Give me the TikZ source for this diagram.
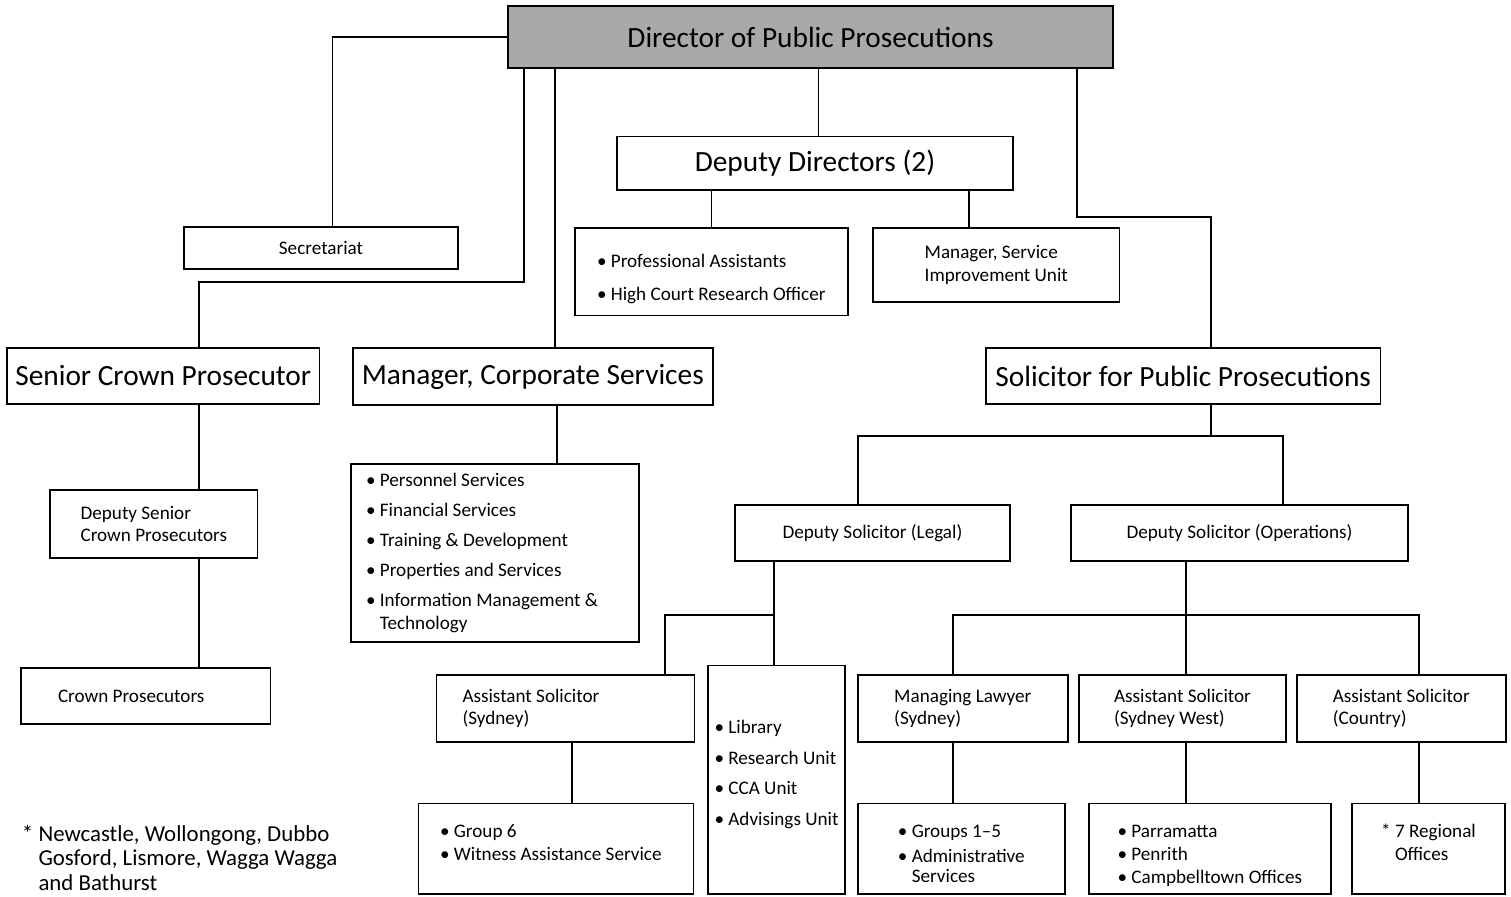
\documentclass[tikz,border=0pt]{standalone}
\usepackage{fontspec}
\setmainfont{Carlito}
\definecolor{dppgray}{HTML}{A9A9A9}
\tikzset{box/.style={draw,line width=1.1pt,inner sep=0pt,align=center,font=\fontsize{10.9}{13}\selectfont},
         bigbox/.style={box,font=\fontsize{16.7}{20}\selectfont},
         link/.style={line width=0.8pt}}

\begin{document}
\begin{tikzpicture}[x=0.02cm,y=-0.02cm]
                  \useasboundingbox (0,0) rectangle (1511,896);
                  % top rows
                  \node[bigbox,fill=dppgray,minimum width=12.1cm,minimum height=1.24cm] (dpp) at (810.5,37) {Director of Public Prosecutions};
                  \node[bigbox,minimum width=7.92cm,minimum height=1.07cm] (dd) at (815,163.25) {Deputy Directors (2)};
                  \node[box,minimum width=5.48cm,minimum height=0.84cm] (sec) at (321,248) {Secretariat};
                  \node[box,align=left,minimum width=5.47cm,minimum height=1.75cm] (pa) at (711.25,271.75) {\rule{0pt}{15.6pt}\textbullet~Professional Assistants\\[5.7pt]\textbullet~High Court Research Officer};
                  \node[box,align=left,minimum width=4.93cm,minimum height=1.48cm] (msi) at (996.25,265) {Manager, Service\\Improvement Unit};
                  \node[bigbox,minimum width=6.25cm,minimum height=1.12cm] (scp) at (163.25,376) {Senior Crown Prosecutor};
                  \node[bigbox,minimum width=7.21cm,minimum height=1.14cm] (mcs) at (532.75,376.5) {Manager, Corporate Services};
                  \node[bigbox,minimum width=7.89cm,minimum height=1.12cm] (spp) at (1183.25,376) {Solicitor for Public Prosecutions};
                  % left branches
                  \node[box,align=left,minimum width=4.15cm,minimum height=1.36cm] (dscp) at (153.8,524) {Deputy Senior\\Crown Prosecutors};
                  \node[box,align=flush left,inner xsep=0.74cm,text width=3.51cm,minimum width=4.99cm,minimum height=1.12cm] (cp) at (145.75,696) {Crown Prosecutors};
                  \node[box,align=flush left,inner xsep=0.3cm,text width=5.16cm,minimum width=5.76cm,minimum height=3.55cm] (csl) at (495,552.85) {\textbullet~Personnel Services\\[4pt]\textbullet~Financial Services\\[4pt]\textbullet~Training \& Development\\[4pt]\textbullet~Properties and Services\\[4pt]\textbullet~Information Management \&\\\phantom{\textbullet~}Technology};
                  \node[bigbox,font=\fontsize{13}{14}\selectfont,draw=none,align=left,anchor=north west] (note) at (21,824) {*~Newcastle, Wollongong, Dubbo\\\phantom{*~}Gosford, Lismore, Wagga Wagga\\\phantom{*~}and Bathurst};
                  % solicitor branches
                  \node[box,minimum width=5.5cm,minimum height=1.12cm] (dsl) at (872.5,533) {Deputy Solicitor (Legal)};
                  \node[box,minimum width=6.74cm,minimum height=1.12cm] (dso) at (1239.5,533) {Deputy Solicitor (Operations)};
                  \node[box,align=flush left,inner xsep=0.52cm,text width=4.12cm,minimum width=5.16cm,minimum height=1.35cm] (asy) at (565.5,708.4) {Assistant Solicitor\\(Sydney)};
                  \node[box,align=left,minimum width=2.74cm,minimum height=4.57cm] (lib) at (776.5,779.75) {\textbullet~Library\\[4.6pt]\textbullet~Research Unit\\[4.6pt]\textbullet~CCA Unit\\[4.6pt]\textbullet~Advisings Unit\rule[-7.9pt]{0pt}{7.9pt}};
                  \node[box,align=left,minimum width=4.21cm,minimum height=1.35cm] (mls) at (962.8,708.4) {Managing Lawyer\\(Sydney)};
                  \node[box,align=left,minimum width=4.14cm,minimum height=1.35cm] (asw) at (1182.5,708.4) {Assistant Solicitor\\(Sydney West)};
                  \node[box,align=left,minimum width=4.17cm,minimum height=1.35cm] (asc) at (1401.3,708.4) {Assistant Solicitor\\(Country)};
                  \node[box,align=flush left,inner xsep=0.43cm,text width=4.64cm,minimum width=5.5cm,minimum height=1.81cm] (g6) at (556,848.75) {\textbullet~Group 6\\\textbullet~Witness Assistance Service\rule[-6.8pt]{0pt}{6.8pt}};
                  \node[box,align=left,minimum width=4.15cm,minimum height=1.81cm] (g15) at (961.3,848.75) {\rule{0pt}{12.7pt}\textbullet~Groups 1--5\\[1.5pt]\textbullet~Administrative\\[-1.6pt]\phantom{\textbullet~}Services};
                  \node[box,align=left,minimum width=4.83cm,minimum height=1.81cm] (par) at (1209.8,848.75) {\rule{0pt}{14.9pt}\textbullet~Parramatta\\\textbullet~Penrith\\\textbullet~Campbelltown Offices};
                  \node[box,align=left,minimum width=3.06cm,minimum height=1.81cm] (reg) at (1428.5,848.75) {*~7 Regional\\\phantom{*~}Offices\rule[-7.9pt]{0pt}{7.9pt}};
                  % connectors
                  \draw[link] (dpp.west) -| ([xshift=0.23cm]sec.north);
                  \draw[link] (524,0 |- dpp.south) -- (524,282) -| (199,0 |- scp.north);
                  \draw[link] (555,0 |- dpp.south) -- (555,0 |- mcs.north);
                  \draw[link] (818.5,0 |- dpp.south) -- (818.5,0 |- dd.north);
                  \draw[link] (711.5,0 |- dd.south) -- (711.5,0 |- pa.north);
                  \draw[link] (969,0 |- dd.south) -- (969,0 |- msi.north);
                  \draw[link] (1077,0 |- dpp.south) -- (1077,217) -| (1211,0 |- spp.north);
                  \draw[link] (199,0 |- scp.south) -- (199,0 |- dscp.north);
                  \draw[link] (199,0 |- dscp.south) -- (199,0 |- cp.north);
                  \draw[link] (557,0 |- mcs.south) -- (557,0 |- csl.north);
                  \draw[link] (1211,0 |- spp.south) -- (1211,436);
                  \draw[link] (858,0 |- dsl.north) |- (1283,436) -- (1283,0 |- dso.north);
                  \draw[link] (774,0 |- dsl.south) -- (774,0 |- lib.north);
                  \draw[link] (665,0 |- asy.north) |- (774,615);
                  \draw[link] (1186,0 |- dso.south) -- (1186,0 |- asw.north);
                  \draw[link] (953,0 |- mls.north) |- (1419,615) -- (1419,0 |- asc.north);
                  \draw[link] (572,0 |- asy.south) -- (572,0 |- g6.north);
                  \draw[link] (953,0 |- mls.south) -- (953,0 |- g15.north);
                  \draw[link] (1186,0 |- asw.south) -- (1186,0 |- par.north);
                  \draw[link] (1419,0 |- asc.south) -- (1419,0 |- reg.north);
              \end{tikzpicture}
\end{document}
